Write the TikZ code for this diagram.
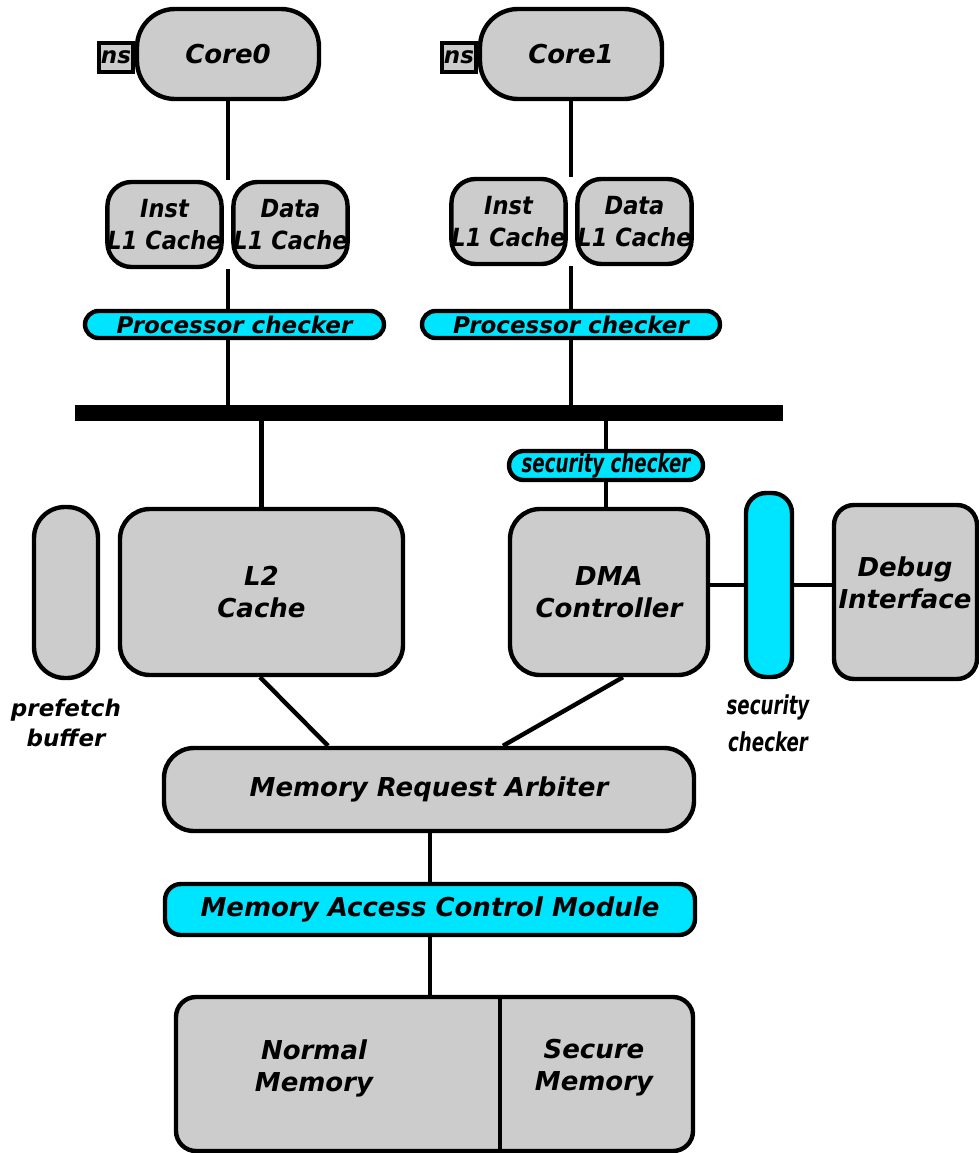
\documentclass[tikz,border=0pt]{standalone}
\usepackage{fontspec}
\setmainfont{DejaVu Sans}
\newfontfamily\condfont{DejaVu Sans}[FakeStretch=0.9]
\newfontfamily\narrowfont{DejaVu Sans}[FakeStretch=0.7]
\usetikzlibrary{calc}
\definecolor{boxgray}{RGB}{204,204,204}
\definecolor{checkcyan}{RGB}{0,229,255}
\newcommand\bigtext{\fontsize{26pt}{32pt}\selectfont\bfseries\itshape}
\newcommand\midtext{\fontsize{23pt}{30pt}\selectfont\bfseries\itshape}
\newcommand\cachetext{\condfont\fontsize{25pt}{32pt}\selectfont\bfseries\itshape}
\newcommand\chktext{\narrowfont\fontsize{26pt}{37pt}\selectfont\bfseries\itshape}
\tikzset{
  base/.style={draw=black, line width=4.4pt, inner sep=0pt, align=center, font=\bigtext},
  graybox/.style={base, fill=boxgray},
  cyanbox/.style={base, fill=checkcyan},
  wire/.style={line width=4.4pt},
  label/.style={inner sep=0pt, align=center},
}
\begin{document}
\begin{tikzpicture}[x=1pt, y=-1pt]
\useasboundingbox (0,0) rectangle (979,1153);

% cores with their ns tags
\node[graybox, font=\midtext, minimum width=34pt, minimum height=29pt] (ns0) at (116,57.5) {ns};
\node[graybox, font=\midtext, minimum width=34pt, minimum height=29pt] (ns1) at (459,57.5) {ns};
\node[graybox, rounded corners=38pt, minimum width=182pt, minimum height=90pt] (core0) at (228,54) {Core0};
\node[graybox, rounded corners=38pt, minimum width=182pt, minimum height=90pt] (core1) at (571,54) {Core1};

% L1 caches
\node[graybox, font=\cachetext, rounded corners=24pt, minimum width=111pt, minimum height=85pt] (inst0) at (164.5,224.5) {Inst\\L1 Cache};
\node[graybox, font=\cachetext, rounded corners=24pt, minimum width=111pt, minimum height=85pt] (data0) at (290.5,224.5) {Data\\L1 Cache};
\node[graybox, font=\cachetext, rounded corners=24pt, minimum width=111pt, minimum height=85pt] (inst1) at (508.5,221.5) {Inst\\L1 Cache};
\node[graybox, font=\cachetext, rounded corners=24pt, minimum width=111pt, minimum height=85pt] (data1) at (634.5,221.5) {Data\\L1 Cache};

% processor checkers
\node[cyanbox, font=\midtext, rounded corners=13.5pt, minimum width=299pt, minimum height=27pt] (pc0) at (234.5,324.5) {Processor checker};
\node[cyanbox, font=\midtext, rounded corners=13.5pt, minimum width=298pt, minimum height=27pt] (pc1) at (571,324.5) {Processor checker};

% system bus
\node[fill=black, inner sep=0pt, minimum width=708pt, minimum height=16pt] (bus) at (429,413) {};

% DMA side checker
\node[cyanbox, font=\chktext, rounded corners=14.5pt, minimum width=194pt, minimum height=29pt] (sc) at (606,465.5) {security checker};

% middle row
\node[graybox, rounded corners=31pt, minimum width=64pt, minimum height=171pt] (pf) at (66,592.5) {};
\node[label, font=\midtext] (pflabel) at (66,723) {prefetch\\buffer};
\node[graybox, rounded corners=30pt, minimum width=283pt, minimum height=166pt] (l2) at (261.5,592) {L2\\Cache};
\node[graybox, rounded corners=30pt, minimum width=198pt, minimum height=166pt] (dma) at (609,592) {DMA\\Controller};
\node[cyanbox, rounded corners=20pt, minimum width=46pt, minimum height=184pt] (vsc) at (769,585) {};
\node[label, font=\chktext] (vsclabel) at (768,723) {security\\checker};
\node[graybox, rounded corners=20pt, minimum width=143pt, minimum height=174pt] (debug) at (905.5,592) {};
\node[label, font=\bigtext] (debugtext) at (905,583) {Debug\\Interface};

% arbiter and access control
\node[graybox, rounded corners=30pt, minimum width=530pt, minimum height=83pt] (arb) at (429,789.5) {Memory Request Arbiter};
\node[cyanbox, rounded corners=16pt, minimum width=530pt, minimum height=51pt] (macm) at (430,909.5) {Memory Access Control Module};

% memory
\node[graybox, rounded corners=20pt, minimum width=517pt, minimum height=154pt] (mem) at (434.5,1074) {};
\coordinate (divx) at (500,0);
\draw[wire] (mem.north -| divx) -- (mem.south -| divx);
\node[label, font=\bigtext] (normal) at (314,1068) {Normal\\Memory};
\node[label, font=\bigtext] (secure) at (594,1068) {Secure\\Memory};

% connectors
\draw[wire] (core0.south) -- (core0.south |- inst0.north);
\draw[wire] (core0.south |- inst0.south) -- (core0.south |- pc0.north);
\draw[wire] (core0.south |- pc0.south) -- (core0.south |- bus.north);
\draw[wire] (core1.south) -- (core1.south |- inst1.north);
\draw[wire] (core1.south |- inst1.south) -- (core1.south |- pc1.north);
\draw[wire] (core1.south |- pc1.south) -- (core1.south |- bus.north);
\draw[wire] (l2.north |- bus.south) -- (l2.north);
\draw[wire] (sc.north |- bus.south) -- (sc.north);
\draw[wire] (sc.south) -- (sc.south |- dma.north);
\draw[wire] (dma.east |- vsc.west) -- (vsc.west);
\draw[wire] (vsc.east) -- (vsc.east -| debug.west);
\draw[wire] ([xshift=-1.5pt]l2.south) -- ([xshift=-101pt]arb.north);
\draw[wire] ([xshift=14pt]dma.south) -- ([xshift=74pt]arb.north);
\draw[wire] (arb.south -| macm.north) -- (macm.north);
\draw[wire] (macm.south) -- (macm.south |- mem.north);
\end{tikzpicture}
\end{document}
